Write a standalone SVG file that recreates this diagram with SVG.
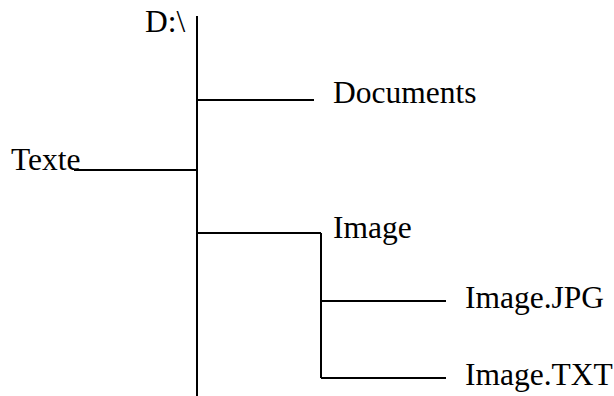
<svg xmlns="http://www.w3.org/2000/svg" width="614" height="396" viewBox="0 0 614 396">
<style>
text{font-family:"Liberation Serif","Times New Roman",serif;font-size:31.5px;fill:#000}
.c line{stroke:#000;stroke-width:2}
</style>
<rect width="614" height="396" fill="#fff"/>
<g class="c" id="connectors">
<line x1="197" y1="16" x2="197" y2="396"/>
<line x1="197" y1="100" x2="314" y2="100"/>
<line x1="74" y1="170" x2="197" y2="170"/>
<line x1="197" y1="233" x2="321" y2="233"/>
<line x1="321" y1="233" x2="321" y2="378"/>
<line x1="321" y1="301" x2="446" y2="301"/>
<line x1="321" y1="378" x2="446" y2="378"/>
</g>
<g id="root"><text x="145" y="32">D:\</text></g>
<g id="documents"><text x="333" y="103">Documents</text></g>
<g id="texte"><text x="11" y="170">Texte</text></g>
<g id="image"><text x="333" y="238">Image</text></g>
<g id="imagejpg"><text x="465" y="308">Image.JPG</text></g>
<g id="imagetxt"><text x="465" y="385">Image.TXT</text></g>
</svg>
